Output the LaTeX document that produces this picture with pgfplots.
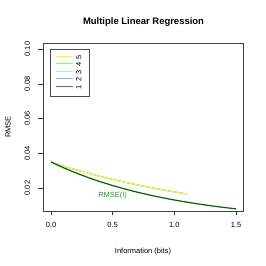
\documentclass[border=0pt]{standalone}
\usepackage{pgfplots}
\pgfplotsset{compat=1.18}
\usepackage{fontspec}
\setmainfont{Liberation Sans}
\definecolor{c5}{RGB}{255,255,0}
\definecolor{c4}{RGB}{128,255,128}
\definecolor{c3}{RGB}{128,255,255}
\definecolor{c2}{RGB}{140,170,255}
\definecolor{c1}{RGB}{128,64,255}
\definecolor{dkgreen}{RGB}{0,100,0}
\definecolor{lblgreen}{RGB}{40,150,40}
\begin{document}
\begin{tikzpicture}[x=1bp,y=1bp]
\path[use as bounding box] (0,0) rectangle (266,266);
\node[font=\fontsize{9.5}{11}\selectfont\bfseries] at (143.5,244) {Multiple Linear Regression};
\begin{axis}[
  at={(43bp,55bp)}, anchor=south west,
  scale only axis, width=200bp, height=168bp,
  xmin=-0.065, xmax=1.557, ymin=0.0068, ymax=0.1035,
  axis x line*=bottom, axis y line*=left,
  axis line style={draw=none},
  xtick={0,0.5,1,1.5}, xticklabels={0.0,0.5,1.0,1.5},
  ytick={0.02,0.04,0.06,0.08,0.1}, yticklabels={0.02,0.04,0.06,0.08,0.10},
  tick align=outside, major tick length=4.5bp,
  tick style={black!80, line width=0.5pt},
  ticklabel style={font=\fontsize{7.5}{9}\selectfont},
  yticklabel style={rotate=90, anchor=south},
  yticklabel shift=5bp,
  xticklabel shift=3bp,
  xlabel={Information (bits)}, ylabel={RMSE},
  label style={font=\fontsize{7.5}{9}\selectfont},
  xlabel style={at={(axis description cs:0.5,0)}, anchor=north, yshift=-34bp},
  ylabel style={at={(axis description cs:0,0.5)}, anchor=center, yshift=35bp},
  clip=false,
  legend style={at={(0,1)}, anchor=north west, xshift=7bp, yshift=-6bp,
    draw=black!70, line width=0.6pt, inner xsep=5bp, inner ysep=5bp,
    font=\fontsize{7.5}{7.5}\selectfont, row sep=0pt,
    nodes={inner xsep=3bp, inner ysep=0pt, minimum height=7.5bp}},
  legend image post style={yshift=2bp},
  reverse legend,
]
\draw[black!75, line width=0.6pt] (rel axis cs:0,0) rectangle (rel axis cs:1,1);
\addplot[c1, line width=0.8pt] coordinates {(0,0.0350) (0.1,0.03270) (0.2,0.03055) (0.3,0.02855) (0.4,0.02668) (0.5,0.02494) (0.6,0.02331) (0.7,0.02179) (0.8,0.02037) (0.9,0.01904) (1.0,0.01780) (1.1,0.01664)};
\addlegendentry{\rotatebox{90}{1}}
\addplot[c2, line width=0.8pt] coordinates {(0,0.0350) (0.1,0.03272) (0.2,0.03058) (0.3,0.02859) (0.4,0.02672) (0.5,0.02498) (0.6,0.02335) (0.7,0.02183) (0.8,0.02041) (0.9,0.01908) (1.0,0.01784) (1.1,0.01668)};
\addlegendentry{\rotatebox{90}{2}}
\addplot[c3, line width=0.8pt] coordinates {(0,0.0350) (0.1,0.03273) (0.2,0.03060) (0.3,0.02861) (0.4,0.02675) (0.5,0.02501) (0.6,0.02339) (0.7,0.02187) (0.8,0.02045) (0.9,0.01912) (1.0,0.01787) (1.1,0.01671)};
\addlegendentry{\rotatebox{90}{3}}
\addplot[c4, line width=0.8pt] coordinates {(0,0.0350) (0.1,0.03270) (0.2,0.03056) (0.3,0.02857) (0.4,0.02671) (0.5,0.02497) (0.6,0.02335) (0.7,0.02183) (0.8,0.02041) (0.9,0.01908) (1.0,0.01784) (1.1,0.01668)};
\addlegendentry{\rotatebox{90}{4}}
\addplot[c5, line width=0.8pt] coordinates {(0,0.0350) (0.1,0.03268) (0.2,0.03052) (0.3,0.02852) (0.4,0.02665) (0.5,0.02491) (0.6,0.02329) (0.7,0.02178) (0.8,0.02036) (0.9,0.01903) (1.0,0.01779) (1.1,0.01664)};
\addlegendentry{\rotatebox{90}{5}}
\addplot[dkgreen, line width=1.2pt, forget plot] coordinates {(0,0.0350) (0.1,0.03173) (0.2,0.02877) (0.3,0.02608) (0.4,0.02365) (0.5,0.02144) (0.6,0.01944) (0.7,0.01762) (0.8,0.01598) (0.9,0.01448) (1.0,0.01313) (1.1,0.01190) (1.2,0.01079) (1.3,0.00978) (1.4,0.00887) (1.5,0.00804)};
\node[lblgreen, font=\fontsize{7.5}{9}\selectfont] at (axis cs:0.5,0.0154) {RMSE(I)};
\end{axis}
\end{tikzpicture}
\end{document}
